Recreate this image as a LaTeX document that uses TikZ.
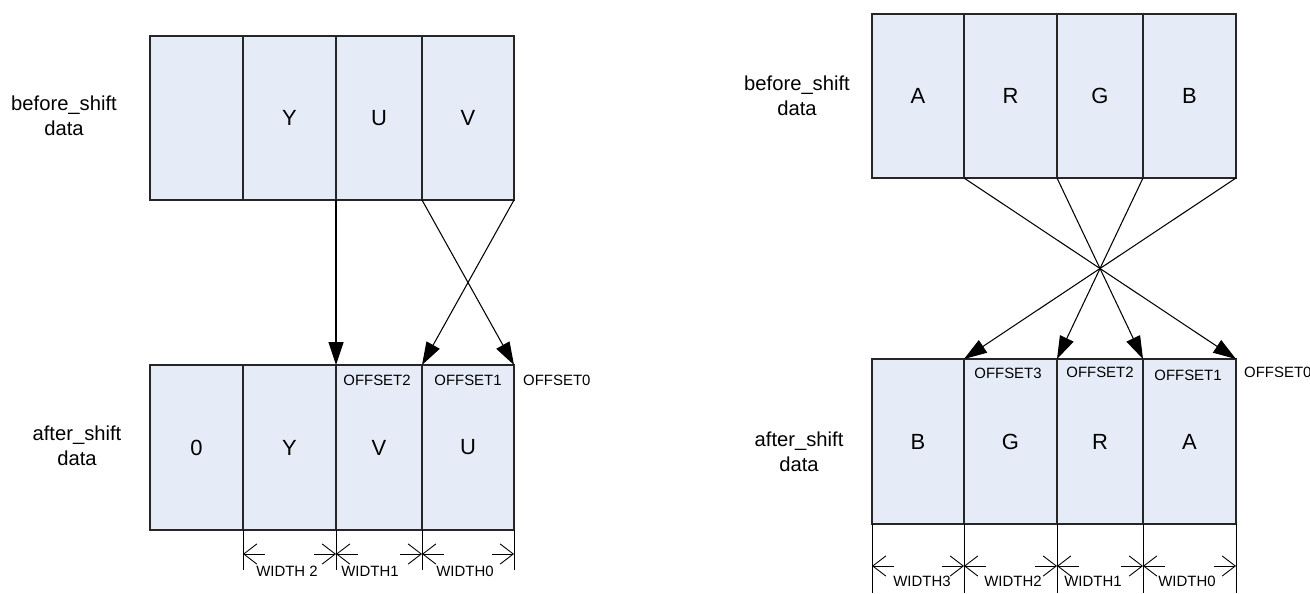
\documentclass[tikz,border=0pt]{standalone}
\usepackage{fontspec}
\setmainfont{Liberation Sans}
\usetikzlibrary{arrows.meta}
\definecolor{cellfill}{HTML}{E6ECF7}

\begin{document}
\begin{tikzpicture}[x=0.02cm,y=-0.02cm,
  cell/.style={draw=black!85,fill=cellfill,line width=0.6pt,anchor=north west,
    inner sep=0pt,outer sep=0pt,font=\fontsize{12.5}{15}\selectfont},
  sig/.style={-{Triangle[length=13pt,width=8.5pt]},line width=0.6pt},
  dim/.style={{Straight Barb[length=7.5pt,width=11.5pt]}-,line width=0.5pt},
  lbl/.style={font=\fontsize{11.5}{14.5}\selectfont,align=center},
  tag/.style={font=\fontsize{8.5}{10}\selectfont}]
\useasboundingbox (0,0) rectangle (1310,593);
% YUV: before shift
\foreach \n/\x/\w/\t in {1/150/93/{},2/243/93/Y,3/336/86/U,4/422/92/V}
  \node[cell,minimum width=\w*0.02cm,minimum height=164*0.02cm] (lt\n) at (\x,36) {\t};
\node[lbl] (ltlab) at (64,116) {before\_shift\\data};
% YUV: after shift
\foreach \n/\x/\w/\t in {1/150/93/0,2/243/93/Y,3/336/86/V,4/422/92/U}
  \node[cell,minimum width=\w*0.02cm,minimum height=165*0.02cm] (lb\n) at (\x,365) {\t};
\node[lbl] (lblab) at (77,446) {after\_shift\\data};
\draw[sig] (lt2.south east) -- (lb2.north east);
\draw[sig] (lt3.south east) -- (lb4.north east);
\draw[sig] (lt4.south east) -- (lb3.north east);
\node[tag] (lo2) at (377,380) {OFFSET2};
\node[tag] (lo1) at (468,380) {OFFSET1};
\node[tag,anchor=west] (lo0) at (517,380) {OFFSET0};
% YUV: widths
\foreach \c in {lb2.south west,lb3.south west,lb4.south west,lb4.south east}
  \draw[line width=0.5pt] (\c) -- ++(0,40);
\foreach \i in {2,3,4} {
  \draw[dim] ([yshift=-0.48cm]lb\i.south west) -- ++(22,0);
  \draw[dim] ([yshift=-0.48cm]lb\i.south east) -- ++(-22,0);
}
\node[tag] (lw2) at (287,571) {WIDTH 2};
\node[tag] (lw1) at (370,571) {WIDTH1};
\node[tag] (lw0) at (465,571) {WIDTH0};
% ARGB: before shift
\foreach \n/\x/\w/\t in {1/872/92/A,2/964/93/R,3/1057/86/G,4/1143/93/B}
  \node[cell,minimum width=\w*0.02cm,minimum height=164*0.02cm] (rt\n) at (\x,14) {\t};
\node[lbl] (rtlab) at (797,96) {before\_shift\\data};
% ARGB: after shift
\foreach \n/\x/\w/\t in {1/872/92/B,2/964/93/G,3/1057/86/R,4/1143/93/A}
  \node[cell,minimum width=\w*0.02cm,minimum height=165*0.02cm] (rb\n) at (\x,359) {\t};
\node[lbl] (rblab) at (799,452) {after\_shift\\data};
\foreach \s/\d in {1/4,2/3,3/2,4/1}
  \draw[sig] (rt\s.south east) -- (rb\d.north east);
\node[tag] (ro3) at (1008,373) {OFFSET3};
\node[tag] (ro2) at (1100,372) {OFFSET2};
\node[tag] (ro1) at (1188,375) {OFFSET1};
\node[tag,anchor=west] (ro0) at (1238,372) {OFFSET0};
% ARGB: widths
\foreach \c in {rb1.south west,rb2.south west,rb3.south west,rb4.south west,rb4.south east}
  \draw[line width=0.5pt] (\c) -- ++(0,69);
\foreach \i in {1,2,3,4} {
  \draw[dim] ([yshift=-0.84cm]rb\i.south west) -- ++(22,0);
  \draw[dim] ([yshift=-0.84cm]rb\i.south east) -- ++(-22,0);
}
\node[tag] (rw3) at (922,581) {WIDTH3};
\node[tag] (rw2) at (1013,581) {WIDTH2};
\node[tag] (rw1) at (1093,581) {WIDTH1};
\node[tag] (rw0) at (1187,581) {WIDTH0};
\end{tikzpicture}
\end{document}
